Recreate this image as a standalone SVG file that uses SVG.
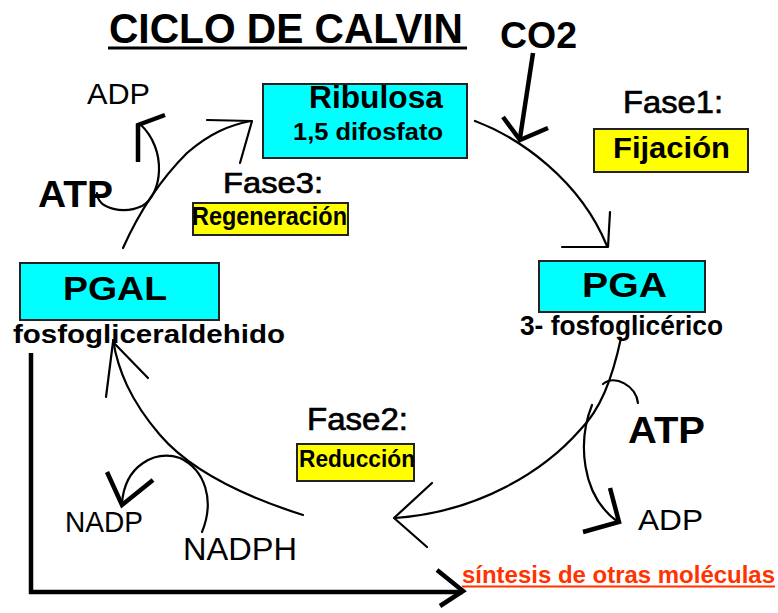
<svg xmlns="http://www.w3.org/2000/svg" width="778" height="613" viewBox="0 0 778 613">
<style>
text{font-family:"Liberation Sans",Arial,sans-serif;fill:#000}
.b{font-weight:bold}
.f{stroke:#000;stroke-width:0.7}
.cy{fill:#00ffff;stroke:#222;stroke-width:2}
.ye{fill:#ffff00;stroke:#222;stroke-width:2}
.ln{fill:none;stroke:#000;stroke-width:2.2;stroke-linecap:round;stroke-linejoin:round}
.th{fill:none;stroke:#000;stroke-width:4.5;stroke-linecap:butt;stroke-linejoin:miter}
</style>
<rect width="778" height="613" fill="#fff"/>
<g id="title">
<text class="b" x="109" y="43" font-size="42" textLength="354" lengthAdjust="spacingAndGlyphs">CICLO DE CALVIN</text>
<rect x="108" y="46.5" width="359" height="3" fill="#000"/>
</g>
<g id="co2"><text class="b" x="500" y="48" font-size="36" textLength="77" lengthAdjust="spacingAndGlyphs">CO2</text></g>
<g id="ribulosa">
<rect class="cy" x="263" y="84" width="204" height="74"/>
<text class="b" x="309" y="108" font-size="31" textLength="134" lengthAdjust="spacingAndGlyphs">Ribulosa</text>
<text class="b" x="293" y="140" font-size="23" textLength="150" lengthAdjust="spacingAndGlyphs">1,5 difosfato</text>
</g>
<g id="fase1">
<text class="f" x="623" y="113" font-size="32" textLength="100" lengthAdjust="spacingAndGlyphs">Fase1:</text>
<rect class="ye" x="594" y="129" width="154" height="43"/>
<text class="b" x="613" y="158" font-size="30" textLength="117" lengthAdjust="spacingAndGlyphs">Fijación</text>
</g>
<g id="pga">
<rect class="cy" x="539" y="261" width="166" height="51"/>
<text class="b" x="582" y="297" font-size="35" textLength="85" lengthAdjust="spacingAndGlyphs">PGA</text>
<text class="b" x="520" y="335" font-size="27" textLength="203" lengthAdjust="spacingAndGlyphs">3- fosfoglicérico</text>
</g>
<g id="pgal">
<rect class="cy" x="20" y="263" width="199" height="57"/>
<text class="b" x="63" y="300" font-size="33" textLength="104" lengthAdjust="spacingAndGlyphs">PGAL</text>
<text class="b" x="13" y="343" font-size="25" textLength="272" lengthAdjust="spacingAndGlyphs">fosfogliceraldehido</text>
</g>
<g id="fase3">
<text class="f" x="223" y="193" font-size="30" textLength="100" lengthAdjust="spacingAndGlyphs">Fase3:</text>
<rect class="ye" x="193" y="203" width="155" height="32"/>
<text class="b" x="192" y="225" font-size="25" textLength="155" lengthAdjust="spacingAndGlyphs">Regeneración</text>
</g>
<g id="fase2">
<text class="f" x="307" y="430" font-size="31" textLength="101" lengthAdjust="spacingAndGlyphs">Fase2:</text>
<rect class="ye" x="297" y="444" width="117" height="37"/>
<text class="b" x="299" y="467" font-size="24" textLength="116" lengthAdjust="spacingAndGlyphs">Reducción</text>
</g>
<g id="adp1"><text x="87" y="104" font-size="30" textLength="63" lengthAdjust="spacingAndGlyphs">ADP</text></g>
<g id="atp1"><text class="b" x="38" y="207" font-size="37" textLength="75" lengthAdjust="spacingAndGlyphs">ATP</text></g>
<g id="atp2"><text class="b" x="628" y="443" font-size="37" textLength="77" lengthAdjust="spacingAndGlyphs">ATP</text></g>
<g id="adp2"><text x="638" y="530" font-size="29" textLength="65" lengthAdjust="spacingAndGlyphs">ADP</text></g>
<g id="nadp"><text x="65" y="532" font-size="30" textLength="78" lengthAdjust="spacingAndGlyphs">NADP</text></g>
<g id="nadph"><text x="183" y="560" font-size="32" textLength="114" lengthAdjust="spacingAndGlyphs">NADPH</text></g>
<g id="sintesis">
<text class="b" x="462" y="583" font-size="23" textLength="313" lengthAdjust="spacingAndGlyphs" style="fill:#ff3300">síntesis de otras moléculas</text>
<rect x="462" y="585.5" width="313" height="2" fill="#ff3300"/>
</g>
<g id="connectors">
<path class="ln" d="M475,121 C520,138 580,180 607,246"/>
<path class="ln" d="M562,247 L608,247 L610,212"/>
<path class="th" d="M533,53 L520,138"/>
<path class="th" d="M503,117 L520,140 L548,128"/>
<path class="ln" d="M621,338 C612,380 600,410 580,430 C545,470 480,512 395,518"/>
<path class="ln" d="M432,483 L394,518 L427,547"/>
<path class="ln" d="M638,403 C636,386 615,374 603,384"/>
<path class="ln" d="M592,405 C578,440 580,495 618,522"/>
<path class="th" d="M610,488 L619,522 L583,532"/>
<path class="ln" d="M303,515 C240,495 190,470 160,435 C130,400 118,370 113,340"/>
<path class="ln" d="M106,397 L113,342 L148,378"/>
<path class="ln" d="M202,532 C215,500 205,470 180,458 C155,450 125,465 122,503"/>
<path class="th" d="M107,472 L122,505 L153,480"/>
<path class="ln" d="M123,248 C140,210 160,180 187,153 C210,133 230,125 251,121"/>
<path class="ln" d="M207,120 L252,121 L240,163"/>
<path class="ln" d="M97,193 C98,210 125,214 142,206 C162,195 168,150 140,124"/>
<path class="th" d="M138,162 L138,125 L165,115"/>
<path class="th" d="M31,353 L31,592 L463,592"/>
<path class="th" d="M437,570 L463,591 L440,606"/>
</g>
</svg>
